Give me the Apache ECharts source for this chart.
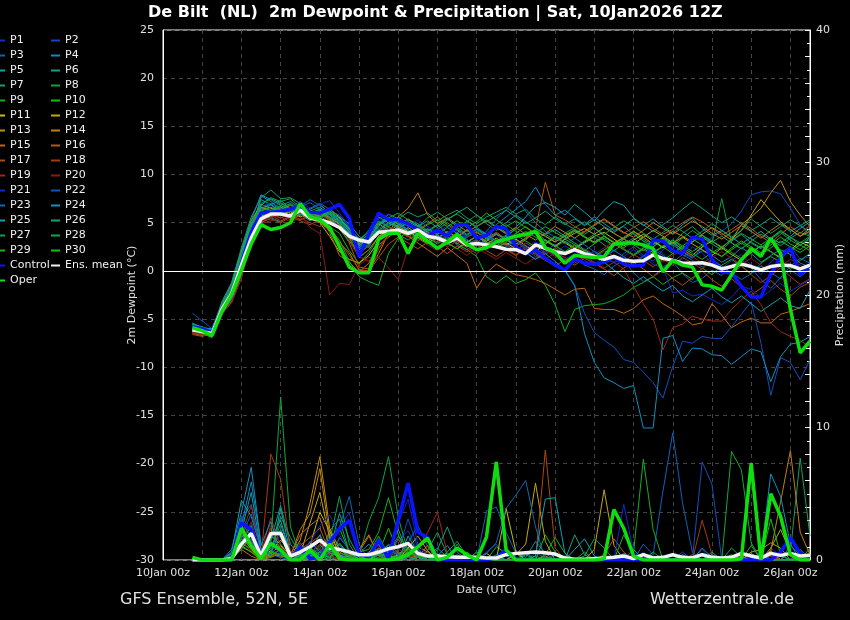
<!DOCTYPE html>
<html lang="en">
<head>
    <meta charset="UTF-8">
    <title>De Bilt Dewpoint & Precipitation</title>
    <script src="https://cdn.jsdelivr.net/npm/echarts@6/dist/echarts.min.js"></script>
    <style>
        html, body { margin: 0; padding: 0; background: #000; }
        #chart { width: 850px; height: 620px; }
    </style>
</head>
<body>
<div id="chart"></div>
<script>
    // time steps: hours after 10Jan 00z, every 6h from +18h to +396h (64 steps)
    var hours = [];
    for (var h = 18; h <= 396; h += 6) hours.push(h);

    var names = ['P1','P2','P3','P4','P5','P6','P7','P8','P9','P10','P11','P12','P13','P14','P15',
                 'P16','P17','P18','P19','P20','P21','P22','P23','P24','P25','P26','P27','P28','P29','P30'];
    var colors = ['#1030c0','#1048c0','#1060b8','#1088c0','#10a0b8','#10a088','#10a060','#10a040','#10b020','#10c010',
                  '#c0c010','#c0a810','#c09010','#c08010','#c06810','#b85810','#b04810','#a83810','#a02818','#901818',
                  '#1028d0','#1050c0','#1068b0','#1090c0','#10a0b0','#10a080','#10a058','#10a840','#18b020','#10c010'];

    // ---- 2m dewpoint (°C) ----
    var dewMean = [
        -6.1,-6.3,-6.5,-4.0,-2.4,0.6,3.4,5.4,
        5.9,5.9,5.7,6.3,5.5,5.3,5.0,4.5,
        3.6,3.2,3.0,4.0,4.1,4.25,3.9,4.25,
        3.6,3.4,3.0,3.4,2.7,2.85,2.7,2.5,
        2.25,2.2,1.8,2.7,2.35,2.0,1.8,2.2,
        1.8,1.5,1.2,1.5,1.1,1.0,1.05,1.65,
        1.3,1.1,0.8,0.8,0.85,0.6,0.2,0.45,
        0.7,0.45,0.1,0.45,0.6,0.55,0.2,0.6];
    var dewControl = [
        -5.8,-6.0,-6.4,-4.0,-2.6,0.8,4.0,6.0,
        6.1,6.2,6.4,6.7,6.1,6.0,6.4,6.9,
        5.5,1.5,3.8,6.0,5.3,5.3,4.9,4.3,
        3.6,4.25,3.6,4.8,4.8,3.4,3.7,4.6,
        4.4,2.5,1.8,2.2,1.3,0.6,0.1,1.2,
        0.8,0.7,0.9,1.4,0.7,0.5,0.6,3.2,
        3.1,2.1,1.8,3.5,3.3,1.2,-0.1,-0.2,
        -1.6,-2.7,-2.7,-0.3,1.4,2.4,-0.4,0.6];
    var dewOper = [
        -5.9,-6.2,-6.7,-4.2,-2.5,0.1,2.8,4.8,
        4.3,4.5,5.0,7.0,5.6,5.3,4.5,2.5,
        0.4,-0.2,-0.2,3.3,3.9,3.9,1.8,3.9,
        3.1,2.35,3.0,3.8,2.8,2.2,2.4,3.0,
        3.3,3.6,3.8,4.1,2.4,1.9,0.8,1.6,
        1.5,1.4,1.5,2.8,2.9,2.9,2.7,2.3,
        -0.1,1.1,0.6,0.4,-1.45,-1.6,-2.0,-0.4,
        1.15,2.3,1.5,3.4,1.8,-4.0,-8.5,-7.3];

    var dewP1 = [
        -5.6,-6.0,-6.2,-4.3,-2.9,0.2,3.8,5.6,
        5.9,6.3,5.4,6.8,6.0,5.5,6.2,5.8,
        4.6,3.0,3.9,5.5,4.8,5.2,4.3,4.9,
        3.8,4.4,3.2,3.9,3.3,2.6,3.1,3.8,
        2.9,2.4,1.6,2.5,1.9,2.3,1.2,1.8,
        1.1,0.6,1.5,2.2,1.4,0.9,1.6,2.4,
        1.8,0.8,1.2,2.5,1.9,0.7,0.2,1.1,
        1.7,0.6,-0.4,0.9,1.8,2.6,1.2,1.5];
    var dewP2 = [
        -5.9,-6.2,-6.5,-4.0,-2.2,1.2,4.2,5.8,
        6.1,5.7,6.4,6.0,5.2,5.9,6.5,5.1,
        3.9,2.5,3.2,5.0,5.6,4.4,3.8,4.6,
        4.1,3.5,3.9,4.4,3.0,3.6,2.8,3.3,
        2.6,3.1,2.2,1.5,2.0,2.8,1.7,2.3,
        1.5,2.0,1.2,0.9,1.8,2.5,1.6,1.0,
        2.2,2.9,1.9,1.3,2.4,3.5,4.1,4.9,
        6.2,7.9,8.2,8.3,8.0,6.5,4.8,3.6];
    var dewP3 = [
        -6.2,-6.4,-6.0,-3.6,-1.8,1.5,4.5,6.4,
        6.8,6.2,5.8,6.6,7.1,6.4,5.6,5.2,
        4.3,3.4,2.7,4.1,4.7,5.4,4.9,4.2,
        3.4,2.9,3.6,2.7,2.2,2.9,3.7,4.5,
        3.8,2.6,1.9,1.2,2.3,1.6,0.8,1.4,
        0.6,0.2,-0.4,0.5,1.1,-0.2,-1.1,-0.6,
        0.4,1.0,-0.3,-1.2,-0.8,0.1,-0.5,0.6,
        1.2,0.3,-0.9,-1.8,-0.7,0.5,1.3,0.8];
    var dewP4 = [
        -5.4,-5.9,-6.1,-4.4,-3.0,-0.5,3.2,5.0,
        5.5,5.1,5.8,6.2,5.6,6.1,5.4,4.8,
        3.8,2.6,3.5,4.8,5.3,4.6,3.9,4.4,
        3.1,3.8,2.9,3.5,4.2,3.6,3.0,4.8,
        5.6,6.4,7.2,8.7,6.9,5.8,6.3,5.5,
        4.8,5.6,4.9,4.2,4.6,3.8,3.1,2.5,
        3.3,2.7,2.0,1.4,2.1,1.6,0.9,1.5,
        2.4,1.8,0.9,1.6,2.2,1.7,0.8,0.4];
    var dewP5 = [
        -5.8,-6.1,-6.6,-4.5,-3.1,-0.2,3.6,7.8,
        7.2,6.4,5.6,5.9,6.3,5.7,5.0,5.6,
        4.9,3.6,2.8,3.9,4.5,4.1,3.6,3.3,
        3.9,3.3,2.7,3.4,2.6,3.2,2.4,2.9,
        3.4,4.5,5.6,6.7,7.1,6.6,5.8,6.9,
        6.1,5.2,6.3,7.2,6.8,5.5,4.7,5.4,
        4.6,3.9,4.8,5.5,4.4,3.7,4.2,3.5,
        2.8,3.5,4.1,3.3,2.9,3.6,4.4,5.1];
    var dewP6 = [
        -6.0,-6.3,-6.8,-4.1,-2.4,0.9,4.6,7.4,
        6.9,7.3,6.5,5.8,6.4,6.9,6.0,5.5,
        4.4,3.1,4.2,5.9,5.2,4.6,5.3,4.9,
        4.2,4.8,3.9,4.5,3.8,4.4,3.5,3.0,
        3.6,2.8,3.3,4.0,3.2,2.5,3.1,2.4,
        2.9,3.5,2.7,2.1,2.8,3.4,2.6,1.9,
        2.5,3.2,2.4,3.0,3.7,2.8,2.2,3.1,
        3.8,2.9,2.3,3.4,4.2,3.5,2.7,3.3];
    var dewP7 = [
        -5.5,-5.8,-6.2,-3.2,-1.2,2.4,5.6,7.6,
        8.4,7.5,7.6,7.0,6.2,6.6,5.9,4.8,
        3.6,2.2,3.0,4.6,5.9,5.4,6.1,5.6,
        6.0,5.2,5.8,6.3,5.5,4.9,5.6,6.1,
        6.6,5.9,6.4,5.4,4.8,5.6,4.9,4.3,
        3.8,4.5,3.6,2.9,3.5,4.1,3.3,2.7,
        3.4,2.8,3.9,4.6,3.7,3.0,3.6,2.9,
        2.3,3.1,3.8,3.2,2.6,3.4,4.0,3.6];
    var dewP8 = [
        -6.3,-6.5,-6.6,-4.2,-2.7,0.3,3.9,6.0,
        6.3,7.1,6.4,5.9,5.2,5.8,6.1,5.5,
        4.0,2.9,3.4,4.3,3.7,4.4,5.1,4.6,
        5.5,6.1,5.4,4.6,5.1,5.8,4.9,4.2,
        4.8,4.1,3.5,4.2,3.6,3.0,3.7,4.3,
        3.6,2.9,3.4,2.6,3.3,3.9,3.1,2.5,
        3.2,2.6,3.4,4.2,3.5,2.8,7.5,2.9,
        2.3,3.0,2.4,3.3,4.0,3.2,2.6,3.5];
    var dewP9 = [
        -5.7,-6.0,-6.4,-3.8,-2.0,1.0,4.4,6.2,
        6.6,6.0,5.4,6.1,5.6,5.1,4.6,3.9,
        2.1,0.8,1.9,3.6,4.3,3.8,3.2,3.9,
        3.4,2.8,3.5,2.9,2.2,1.5,-0.6,-1.3,
        -0.5,-1.3,-0.9,-0.2,-1.5,-3.5,-6.3,-4.0,
        -3.6,-3.5,-3.4,-3.0,-2.5,-1.7,-1.2,-0.6,
        -1.4,-0.7,-0.2,-0.9,0.3,-0.4,0.6,1.2,
        0.5,-0.3,0.8,1.5,0.9,0.2,1.1,1.8];
    var dewP10 = [
        -6.1,-6.4,-6.9,-4.6,-2.6,0.6,3.8,5.4,
        5.8,6.5,7.0,6.3,5.5,6.0,5.3,4.6,
        3.4,1.8,2.6,4.2,5.0,4.5,3.7,4.3,
        3.6,4.2,3.4,2.8,3.5,4.0,3.3,2.6,
        3.2,3.9,4.6,3.8,3.1,2.5,3.3,2.7,
        2.1,2.8,3.6,2.9,2.3,1.7,2.4,3.1,
        2.5,1.8,2.6,3.3,2.7,2.0,1.5,2.4,
        3.1,2.5,1.9,2.7,3.5,2.8,2.2,3.0];
    var dewP11 = [
        -5.9,-6.2,-6.3,-3.9,-2.3,1.4,4.9,6.6,
        6.3,5.8,6.2,5.6,5.9,5.0,3.6,2.0,
        1.2,0.8,1.6,3.1,3.8,4.6,4.1,3.5,
        2.9,3.5,2.8,3.3,2.7,2.1,2.8,3.4,
        2.7,3.3,2.6,2.0,2.8,3.5,2.9,2.3,
        3.0,3.6,4.0,3.3,2.6,3.2,3.8,3.1,
        2.4,3.0,2.2,1.6,2.5,3.1,2.4,1.7,
        1.1,1.9,2.6,2.0,1.3,2.2,3.0,2.5];
    var dewP12 = [
        -6.4,-6.6,-6.2,-3.5,-1.5,2.0,5.2,6.9,
        6.5,6.1,5.5,6.0,5.4,5.9,6.4,5.6,
        4.1,2.8,3.6,4.9,4.2,3.7,4.5,3.8,
        3.1,3.7,2.9,2.3,3.0,3.6,2.9,2.4,
        2.9,2.3,1.8,2.5,3.2,2.6,3.3,3.9,
        4.4,3.8,4.5,3.9,3.3,2.8,3.5,4.2,
        3.6,2.9,3.5,2.8,2.2,1.6,2.4,3.3,
        4.2,5.8,7.4,6.2,5.1,4.3,3.6,4.4];
    var dewP13 = [
        -6.0,-6.2,-6.5,-4.2,-2.8,0.4,4.1,6.0,
        6.2,6.6,6.0,6.5,5.8,6.2,5.5,4.9,
        3.5,1.4,2.2,3.6,4.1,4.8,5.4,4.7,
        4.0,3.4,4.1,3.5,4.3,3.7,3.1,3.8,
        3.3,2.8,3.4,4.1,3.6,3.0,3.6,4.2,
        3.5,3.0,3.6,2.9,3.4,4.1,3.5,2.8,
        3.4,4.1,3.6,3.0,3.8,4.5,3.9,3.2,
        4.8,5.6,6.5,8.1,9.4,7.2,5.8,4.6];
    var dewP14 = [
        -6.2,-6.5,-6.6,-4.0,-2.1,1.1,4.3,5.7,
        6.0,6.4,6.8,6.2,5.4,5.0,4.2,2.9,
        1.9,0.1,0.0,1.8,3.9,5.6,6.5,8.1,
        5.8,4.9,5.5,4.8,4.1,4.6,5.2,4.5,
        3.9,4.5,3.8,3.2,3.9,4.6,4.0,3.4,
        4.1,4.8,5.4,4.7,4.0,3.5,4.2,5.0,
        4.4,3.8,4.5,5.2,4.6,3.9,3.3,4.0,
        4.7,4.1,3.4,4.2,4.9,4.3,3.6,4.1];
    var dewP15 = [
        -5.8,-6.0,-6.3,-4.1,-2.5,0.7,4.0,5.4,
        5.6,6.0,5.3,5.8,6.3,5.6,4.0,1.6,
        0.9,-0.1,0.8,2.7,3.5,4.2,3.6,2.9,
        2.2,1.5,2.4,1.6,0.8,-1.8,-0.2,0.7,
        0.1,-0.4,-0.6,-0.9,-1.3,-1.9,-2.5,-1.9,
        -1.8,-3.9,-4.0,-4.0,-4.4,-3.9,-3.0,-2.6,
        -3.4,-4.0,-4.7,-5.6,-5.4,-3.4,-4.6,-5.9,
        -5.3,-4.9,-5.4,-5.4,-4.5,-4.2,-3.8,-3.4];
    var dewP16 = [
        -6.5,-6.7,-6.4,-3.7,-1.9,1.6,4.7,6.2,
        6.0,5.5,5.9,5.3,5.7,6.1,5.4,4.5,
        2.9,0.4,0.2,2.3,3.8,4.4,5.0,4.3,
        4.9,5.6,4.8,4.2,3.5,4.1,3.4,4.0,
        3.3,2.6,3.2,4.4,9.2,5.8,5.3,4.6,
        4.0,4.7,5.3,4.6,3.9,4.5,5.1,4.4,
        3.8,4.3,5.0,5.6,5.1,4.4,3.7,4.3,
        5.0,4.4,3.6,2.9,3.8,4.6,3.9,4.7];
    var dewP17 = [
        -6.6,-6.8,-6.5,-4.4,-3.2,-0.3,3.4,5.1,
        5.4,5.0,5.6,5.2,4.8,5.3,4.5,3.1,
        1.6,0.2,-0.1,1.4,2.8,3.5,2.9,2.3,
        3.0,2.5,1.8,2.6,2.0,2.7,2.1,1.5,
        2.2,1.6,2.3,1.7,1.1,0.5,1.2,0.6,
        1.3,0.8,0.2,-0.5,0.3,0.9,0.2,-0.6,
        0.1,-0.8,-1.5,-0.7,0.0,-0.9,-1.6,-0.8,
        -1.7,-2.5,-1.8,-1.0,-1.9,-2.6,-1.7,-1.2];
    var dewP18 = [
        -6.3,-6.5,-6.7,-4.3,-2.9,0.0,3.7,5.3,
        5.8,5.2,5.6,6.1,5.5,5.9,5.2,4.6,
        3.3,1.9,2.6,4.0,4.6,4.1,3.5,4.2,
        3.5,3.0,3.8,3.1,2.5,3.2,2.6,3.3,
        2.7,2.1,2.9,2.3,1.7,2.4,1.8,2.6,
        1.9,1.3,2.1,1.5,0.9,1.7,1.1,0.4,
        1.2,0.6,1.4,0.8,0.2,1.1,0.5,-0.3,
        0.5,-0.4,-1.2,-0.5,0.3,-0.6,-1.4,-0.8];
    var dewP19 = [
        -6.1,-6.4,-6.6,-4.5,-3.3,-0.8,3.0,4.9,
        5.2,5.6,5.1,5.5,5.0,4.6,5.1,4.4,
        3.0,1.5,1.0,2.4,3.6,4.3,3.7,3.1,
        3.8,3.2,2.5,3.1,2.4,1.8,2.5,3.0,
        2.3,1.7,2.5,1.9,1.2,1.9,1.4,0.8,
        1.5,0.9,0.3,0.9,0.2,-1.6,-3.4,-5.0,
        -8.2,-5.9,-5.5,-4.7,-5.0,-5.2,-5.2,-4.0,
        -3.0,-2.1,-3.5,-5.4,-6.3,-6.8,-7.2,-7.9];
    var dewP20 = [
        -6.4,-6.6,-6.8,-4.6,-3.0,0.1,3.5,5.2,
        5.5,5.8,5.4,6.0,4.5,3.9,-2.5,-1.3,
        -1.4,0.6,1.4,1.4,0.3,-0.9,2.4,3.4,
        2.7,2.1,2.9,2.3,1.6,2.4,1.8,1.2,
        1.9,1.3,0.7,1.4,2.1,1.5,0.9,1.6,
        2.3,1.7,2.4,3.0,2.3,1.6,2.2,1.5,
        0.9,1.6,2.2,1.5,0.8,1.4,2.0,1.3,
        0.7,1.3,0.6,-0.2,0.5,1.2,0.6,-0.1];
    var dewP21 = [
        -5.7,-6.0,-6.3,-4.0,-2.4,0.9,4.4,6.1,
        6.4,6.0,6.6,7.2,6.5,6.9,7.3,6.0,
        4.7,2.3,3.1,5.4,5.9,5.1,4.6,5.3,
        4.6,4.0,4.7,4.1,3.5,4.2,3.6,3.0,
        3.7,3.1,2.4,3.0,2.5,1.9,2.6,2.0,
        1.4,2.1,1.5,0.8,1.5,2.2,1.4,0.7,
        0.3,-2.3,-2.0,-2.6,-2.4,-3.0,-3.5,-2.7,
        -1.6,-1.9,-2.8,-2.0,-1.3,-2.1,-1.5,-0.9];
    var dewP22 = [
        -4.4,-5.2,-6.0,-3.5,-1.6,1.8,4.9,6.7,
        7.0,6.5,6.1,6.7,7.4,6.8,6.0,5.4,
        4.2,3.0,3.8,5.2,4.7,5.5,4.9,4.3,
        3.7,4.3,3.6,3.0,3.7,4.4,3.8,3.2,
        2.5,3.1,2.4,1.8,1.2,0.6,0.0,-1.6,
        -4.4,-6.4,-7.2,-7.9,-9.2,-9.5,-10.5,-11.6,
        -13.2,-9.9,-7.3,-7.5,-6.8,-7.0,-7.0,-5.8,
        -4.5,-3.2,-7.5,-12.9,-9.0,-9.5,-11.3,-9.2];
    var dewP23 = [
        -5.6,-5.9,-6.2,-3.9,-2.2,1.0,4.3,6.0,
        6.3,5.9,6.4,5.9,6.5,7.0,6.4,5.7,
        4.5,3.2,2.4,4.4,5.0,4.4,3.8,4.5,
        3.9,3.3,4.0,3.4,2.7,3.3,4.1,5.4,
        6.3,7.6,6.2,5.0,4.1,3.5,2.8,3.4,
        2.7,2.0,1.4,2.1,1.5,0.8,1.5,2.2,
        1.6,0.9,1.7,1.1,0.4,1.2,0.5,-0.2,
        -0.9,-0.3,0.5,-0.2,-0.8,0.1,-0.6,0.2];
    var dewP24 = [
        -5.5,-5.9,-6.0,-3.4,-1.3,2.2,5.3,7.9,
        7.4,6.8,7.2,6.5,5.9,6.3,5.6,5.0,
        3.9,2.7,3.4,4.9,5.4,4.8,4.2,3.6,
        4.3,3.7,3.1,3.8,3.2,2.6,3.3,3.9,
        3.2,2.6,1.9,1.2,1.8,1.0,0.1,-1.5,
        -6.5,-9.5,-11.1,-11.6,-12.2,-11.9,-16.3,-16.3,
        -7.0,-6.7,-9.4,-8.0,-8.1,-8.7,-8.8,-9.7,
        -8.9,-8.1,-8.4,-11.5,-8.9,-7.6,-7.4,-6.8];
    var dewP25 = [
        -5.9,-6.2,-6.5,-4.3,-2.7,0.5,4.0,6.5,
        6.9,6.2,5.7,6.3,5.8,6.4,5.9,5.2,
        4.1,2.6,3.3,4.7,5.4,4.9,4.3,3.7,
        4.4,3.8,4.5,3.9,5.2,4.5,3.8,4.4,
        5.0,5.8,5.1,4.4,3.8,4.3,3.6,2.9,
        2.2,1.6,0.9,0.1,-0.7,-1.3,-0.6,-1.4,
        -2.1,-1.5,-2.6,-3.2,-2.5,-1.8,-2.7,-3.3,
        -2.6,-3.4,-4.2,-3.5,-2.8,-3.6,-3.9,-2.0];
    var dewP26 = [
        -6.2,-6.4,-6.3,-3.8,-1.9,1.5,4.8,7.0,
        7.5,7.0,6.4,5.8,6.1,5.5,6.0,5.3,
        4.4,3.3,4.0,5.6,5.0,4.4,5.1,4.6,
        5.2,4.5,5.3,6.0,6.6,5.8,5.1,5.7,
        6.3,5.6,4.9,5.5,6.2,5.4,4.8,5.4,
        4.7,5.3,4.6,4.0,4.7,5.4,4.8,4.1,
        4.8,5.5,6.4,7.2,6.5,5.7,5.0,5.6,
        4.9,4.2,4.8,5.5,4.8,4.1,4.7,5.3];
    var dewP27 = [
        -5.8,-6.1,-6.5,-4.4,-2.9,0.2,3.6,5.9,
        6.1,6.7,5.9,6.4,5.7,6.2,5.6,4.3,
        3.1,1.9,2.8,4.2,4.9,5.6,4.9,4.2,
        3.6,4.3,5.0,4.3,3.7,4.3,3.7,3.1,
        3.7,4.3,5.1,4.4,3.8,3.2,3.9,4.5,
        5.1,4.4,3.8,4.5,5.2,4.6,3.9,3.3,
        4.0,4.7,4.1,3.4,4.1,4.9,4.2,3.5,
        4.2,5.4,4.6,3.9,4.6,5.3,4.7,4.0];
    var dewP28 = [
        -6.0,-6.3,-6.6,-4.1,-2.3,1.3,4.6,6.8,
        7.6,7.2,7.5,6.6,6.0,6.4,5.8,5.1,
        3.7,2.4,3.2,4.9,5.5,6.0,5.3,4.7,
        4.1,4.7,5.4,5.9,5.2,4.6,5.3,4.6,
        4.0,3.4,4.1,3.5,2.9,3.6,3.0,2.4,
        3.1,3.8,3.2,2.6,3.3,2.7,2.1,2.8,
        3.5,2.9,2.3,3.0,3.7,3.1,2.5,3.2,
        3.9,3.3,2.7,3.4,4.1,3.5,2.9,3.6];
    var dewP29 = [
        -5.6,-5.9,-6.2,-3.6,-1.7,1.9,5.0,6.3,
        6.6,6.2,6.9,6.3,5.6,5.1,4.4,3.2,
        1.0,-0.6,-1.1,-1.5,1.8,3.4,4.0,3.4,
        2.8,3.5,2.9,2.3,2.9,3.6,3.0,2.4,
        3.0,3.7,3.1,2.5,3.2,2.6,2.0,2.7,
        2.1,1.5,2.2,2.8,2.2,1.6,2.3,1.7,
        1.1,1.8,2.4,1.8,1.2,1.9,2.5,1.9,
        1.3,2.0,2.6,2.0,1.4,2.1,2.7,2.1];
    var dewP30 = [
        -6.2,-6.5,-6.9,-4.5,-2.6,0.8,4.3,5.8,
        6.2,6.8,6.2,6.7,6.1,5.6,6.2,5.5,
        4.3,3.1,3.8,5.1,4.6,5.2,4.7,4.1,
        4.8,5.3,4.6,5.2,4.5,5.1,6.0,5.3,
        4.6,5.2,4.5,3.9,4.6,4.0,3.4,4.1,
        3.5,2.9,3.6,3.0,2.4,3.1,2.5,1.9,
        2.6,3.2,2.6,2.0,2.7,2.1,1.5,2.2,
        2.9,2.3,1.7,2.4,3.1,2.5,1.9,2.6];

    // ---- precipitation (mm / 6h) ----
    var precMean = [
        0,0,0,0,0.1,1.2,2.0,0.3,
        2.0,2.0,0.3,0.6,1.0,1.5,0.9,0.8,
        0.6,0.4,0.4,0.6,0.85,1.0,1.25,0.5,
        0.3,0.3,0.25,0.2,0.2,0.2,0.15,0.15,
        0.4,0.5,0.55,0.6,0.55,0.45,0.15,0.05,
        0.05,0.1,0.15,0.2,0.3,0.1,0.4,0.15,
        0.2,0.4,0.2,0.15,0.4,0.2,0.15,0.2,
        0.5,0.3,0.15,0.5,0.35,0.5,0.3,0.35];
    var precControl = [
        0,0,0,0,0,2.8,2.3,0.35,
        1.2,0.75,0.1,1.0,0.1,0.2,1.3,2.3,
        3.0,0.5,0.2,1.5,0.1,3.0,5.8,2.1,
        1.7,0.1,0,0,0,0,0,0.2,
        0.7,0.1,0,0,0,0,0,0,
        0,0,0,0,0,0,0,0,
        0,0,0,0,0,0,0,0,
        0,0,0,0,0.6,1.7,0.5,0.2];
    var precOper = [
        0.2,0,0,0,0,2.4,1.1,0.1,
        1.25,0.75,0,0,0.75,0,1.2,0.1,
        0,0,0,0,0,0.1,0.4,1.0,
        1.65,0,0.2,0.9,0.4,0,1.75,7.4,
        0.75,0,0,0,0,0,0,0,
        0,0,0.1,3.8,2.4,0.3,0,0,
        0,0,0,0,0,0,0,0,
        0.1,7.3,0,5.0,3.3,0.4,0,0];

    var precP1 = [
        0,0,0,0,0,1.5,2.8,0.4, 1.2,0.6,0,0.8,0.2,1.6,0.9,2.4,
        3.6,0.5,0,0.9,0.2,1.5,2.2,0.7, 0.3,0,0,0,0.4,0,0,0.3,
        0.9,0.2,0,0,0,0.4,0,0, 0,0,0.3,0,0,0,0.6,0,
        0,0.4,0,0,0.8,0,0,0, 0.5,0,0,0.9,0.3,0,0.4,0];
    var precP2 = [
        0,0,0,0,0.3,2.2,1.4,0.2, 0.8,1.9,0.3,0.5,0,0.9,1.5,0.4,
        0.2,0,0.6,1.1,0,0.7,3.1,0.9, 0,0.2,0,0,0,0,0.6,1.2,
        0.3,0,0,0.5,0.2,0,0,0, 0,0,0,0,0.5,0,0,0,
        0,0,0.3,0,0,0.4,0,0, 0,0,0.6,0,0,0,0.3,0.5];
    var precP3 = [
        0,0,0,0,0.1,3.1,4.2,0.6, 2.0,0.8,0,1.3,0.4,0.2,1.9,1.1,
        0.5,0.3,0,1.6,0.5,0,1.3,2.6, 1.0,0,0,0,0,0,3.7,4.0,
        2.1,0.5,0,0,0,0,0.2,0, 0,0,0,0.3,0,0,1.2,0.4,
        5.2,9.6,4.3,0.6,0,0,0,0.2, 0,0,0,0,0.4,0,0,0];
    var precP4 = [
        0,0,0,0,0.4,2.6,5.9,1.2, 0.6,2.3,0.3,0,0.9,0.4,0,1.7,
        0.8,0,0.2,0.6,1.1,0.3,0,0.4, 0,0.3,1.1,0,0,0,0,0,
        0,0.6,0.2,1.4,0.5,0,0,0, 0,0,0,0,0,0.4,0,0,
        0,0,0,0,0.9,0.2,0,0, 0,0.5,0,0,0,1.1,0.4,0];
    var precP5 = [
        0,0,0,0,0.6,4.5,3.3,0.8, 0.2,3.9,0.5,0.3,1.4,0.6,0.2,0,
        0.4,0,0,0.9,0.3,0,0.5,0, 0,0.2,0.5,0,0,0.2,0,0,
        0,0,0.4,0,0,0,0,0.8, 1.6,0.3,0,0,0,0,0,0,
        0,0,0.4,0,0,0,0,0, 0,0,0,0.6,0,0,0,0.2];
    var precP6 = [
        0,0,0,0,0.2,1.8,2.4,0.3, 1.5,4.1,1.2,0.2,0,0.4,2.2,3.1,
        0.6,0,0.2,0.4,0.8,2.3,0.5,0, 0.3,0.9,0.2,0,0,0,0,0,
        0,0.5,0,0,0,0,0,1.9, 0.4,0,0,0,0,0,0,0.3,
        0,0,0,0,0,0.6,0,0, 0,0,0.3,0,0,0,0.8,0];
    var precP7 = [
        0.1,0,0,0,0.3,2.1,1.5,0.1, 0.9,2.7,0.4,0,0.6,0.3,1.4,4.8,
        1.2,0,0,0.2,0.6,1.8,0.9,0, 0.7,2.1,0.4,0,0,0,0,0.4,
        0,0,0,0,0.2,0,0,0, 0.6,0,0,0,0,0.8,0,0,
        0,0,0,0,0,0.4,0,0.9, 0.2,0,0,0,0,0.6,7.7,1.8];
    var precP8 = [
        0,0,0,0,0.2,2.9,1.7,0.3, 1.1,0.6,0,0.5,0.8,0.3,0,1.3,
        0.4,0.3,2.9,4.7,7.8,3.2,0.6,0.2, 0,0.4,0,1.2,0,0,0,0,
        0,0,0,0.3,0,0,0,0, 0,0,0,0,0,0,0,0.6,
        0,0,0,0,0,0.4,0,0, 0,0,0,0.3,0,0,0,0];
    var precP9 = [
        0,0,0,0,0.1,1.6,0.9,0.2, 0.6,0.4,0,0,0.2,1.1,0.7,0.3,
        0,0,0.5,1.8,0.4,0,0.9,0.5, 0.3,0,0,0,0.6,0,0,1.0,
        0.5,0,0,0,0.4,1.7,0.5,0, 0,0,0,0,0,0,0,0,
        0,0,0,0,0,0,0,0, 0,0,0.4,0,0,0,0,0];
    var precP10 = [
        0,0,0,0,0.2,1.3,2.1,0.2, 1.8,1.2,0.2,0,0.3,0.6,0.1,0.8,
        0.2,0,0,0.5,2.4,0.6,0,0.4, 0,0,0.5,0,0,0.2,0,0,
        0,0,0.6,0,1.9,0.6,0,0, 0,0,0.3,0,0,0,0,0,
        0,0,0,0,0,0,0,0.4, 0,1.1,0,0,0,0,0,0];
    var precP11 = [
        0,0,0,0,0.5,2.0,1.2,0.3, 0.7,1.5,0.6,0,1.1,3.6,2.2,0.4,
        0,0,0.3,0,0,0.4,0.2,1.0, 0.6,0,0,0,0.2,0,0.5,0,
        3.9,0.6,0,0,0,0,0,0, 0,0.2,0,0,0,0,0,0,
        0,0,0,0,0,0,0,0, 0,0,0,0.7,0,0,0,0];
    var precP12 = [
        0,0,0,0,0.3,2.4,1.0,0.2, 0.5,1.1,0.3,0.4,2.8,5.1,1.6,0.3,
        0.2,0,0,0.4,0.3,0,0.9,1.8, 0.7,0,0,0,0,0,0,0,
        0,0.4,1.2,5.8,1.4,0,0,0, 0,0.8,5.3,1.1,0,0,0,0,
        0,0,0,0.3,0,0,0.2,0, 0,0,0,0.9,2.3,0.6,0,0];
    var precP13 = [
        0,0,0,0,0.2,1.9,0.8,0.1, 0.4,0.3,0.2,1.5,4.3,7.8,2.4,0.8,
        0.3,0,0.6,1.2,0,0,0.4,0.2, 0,0,0,0.3,0,0,0,0,
        0,0,0,0,0,0,0,0, 0,0,0,0,0,0,0,0,
        0,0,0,0,0,0,0,0.2, 0,0.6,0.8,1.3,0.9,0,0,0];
    var precP14 = [
        0,0,0,0,0.4,1.1,0.6,0, 0.2,0.5,0.3,2.3,3.5,6.9,1.8,0.6,
        0.2,0.8,1.9,0.3,0,0.5,0.8,0, 0.3,0,0,0,0,0,0,0,
        0,0,0,0,0,0,0.3,0, 0,0,0,0,0,0,0,0,
        0,0,0,0,0,0,0,0, 0,0,0,0.7,4.4,8.25,2.1,0.4];
    var precP15 = [
        0,0,0,0,0.1,0.8,0.3,0, 0.6,0.2,0.4,1.9,2.6,3.2,1.1,0.3,
        0,0.6,1.8,0.4,0,0,0.5,0.2, 1.1,0,0,0,0,0,0,0,
        0,0,0,0,0.3,0,0,0, 0,0,0,0,0,0,0,0,
        0.2,0,0,0,0,0,0,0, 0.3,0,0,0,0,0,0,0];
    var precP16 = [
        0,0,0,0,0.3,1.4,0.7,0.1, 0.3,0.9,0.2,1.1,1.7,2.4,0.6,0.2,
        0.1,0,0.3,0.9,0.5,1.6,0.2,0, 0,0,0.3,0,0,0,0.2,0,
        0,0,0,0,0,0,0,0, 0,0,0.4,1.6,0.6,0,0,0,
        0,0,0,0.4,0,0,0,0, 0,0,0,0.5,0,0,0,0];
    var precP17 = [
        0,0,0,0,0.2,0.9,1.6,0.3, 2.4,0.7,0.1,0.8,1.3,1.8,0.4,0,
        0.2,0,0.4,0.7,0,0.3,0,0, 0,0,0,0,0,0,0,0,
        0,0,0,0,8.3,0.9,0,0, 0,0,0,0,0,0,0,0,
        0,0,0,0,0,0,0,0, 0,0,0,0,0,0,0.3,0];
    var precP18 = [
        0,0,0,0,0.1,2.7,1.2,0.2, 8.0,6.1,0.6,0.2,0.9,1.4,0.3,0,
        0.4,0,0,0.2,0,0,0.3,0.4, 0.6,0,0,0,0,0,0,0,
        0,0,0,0,0,0,0,0, 0,0,0,0,0,0,0.2,0,
        0,0,0,0,3.0,0.4,0,0, 0,0,0,0,0,0,0,0];
    var precP19 = [
        0,0,0,0,0.2,1.8,4.1,0.5, 3.2,1.0,0.3,0.1,0.5,1.2,0.6,0.2,
        0,0,0.2,0.5,0.3,0.6,0,0.8, 2.1,3.6,0.5,0,0,0,0,0,
        0,0,0,0,0,0,0,0, 0,0,0,0,0,0,0,0,
        0,0,0,0,0,0,0,0, 0,0,0,0.3,0,0,0,0];
    var precP20 = [
        0,0,0,0,0.4,1.2,2.9,0.3, 2.6,1.7,0.2,0,0.6,0.9,0.3,0,
        0.2,0,0,0,0.3,0.8,0.5,0, 0,0,0,0,0,0,0,0,
        0,0,0,0,0,0,0,0, 0,0,0,0,0,0,0,0,
        0,0,0,0,0,0,0,0, 0,0,0,0,0,0,0,0];
    var precP21 = [
        0,0,0,0,0.3,2.4,1.6,0.2, 0.8,0.5,0.1,0.6,1.3,2.6,3.4,1.9,
        0.7,0.2,0.5,1.3,0.4,2.8,4.6,1.2, 0.3,0,0,0,0,0,0,0,
        0,0,0,0,0,0,0,0, 0,0,0,0,4.2,0.6,0,0,
        0,0,0,0,0,0,0,0, 0,0,0,0,0,0,0,0];
    var precP22 = [
        0,0,0,0,0.2,3.3,2.2,0.3, 1.4,0.6,0,0.2,0.4,0.8,0.3,1.1,
        0.5,0,0.2,0.6,0.9,0.4,0.2,0, 0,0,0,0,0,0,0,0,
        0,0,0,0,0,0,0,0, 0,0,0,0,0.5,0,0,0,
        0,0,0.6,0,7.4,5.7,0,0, 0,0,0,0,0,0,0,0];
    var precP23 = [
        0,0,0,0,0.5,1.7,3.5,0.8, 0.4,0.2,0,0.3,0.5,0.4,1.6,2.5,
        4.8,1.2,0,0.2,0.7,0.4,0,0.3, 0,0,0,0,0,0,0.5,1.3,
        3.9,4.9,6.0,2.5,0,0,0,0, 0,0,0,0,0,0,0,0,
        0,0,0,0,0,0,0,0, 0,0,0,0,0,0,0,0];
    var precP24 = [
        0,0,0,0,0.8,3.6,7.0,1.1, 2.9,0.5,0,0.4,0.2,0,0.6,0.9,
        0.3,0.5,1.2,0.4,0,0,0.3,0.8, 0.2,0,0,0,0,0,0,0,
        0,0,0,0,0,0,0,0, 0,0,0,0,0,0,0,0,
        0,0,0,0,0,0,0,0, 0,0,0.3,6.5,4.8,1.2,0,0];
    var precP25 = [
        0,0,0,0,0.3,2.2,5.1,0.7, 1.6,3.0,0.4,0.2,0.7,1.9,0.5,0.3,
        0.2,0,0.4,0.6,0.2,0,1.8,0.6, 0,0,0,0.4,0,0.6,0,0,
        0,0,0,0.3,4.6,4.7,0.5,0, 0,0,0,0,0,0,0,0,
        0,0,0,0,0,0,0,0, 0,0,0,0,0,0,0,0];
    var precP26 = [
        0,0,0,0,0.2,1.3,2.6,0.4, 1.9,2.2,0.3,0,0.5,0.3,0.8,3.5,
        1.6,0.2,0,0.4,1.2,0.5,0,0.2, 0,0.8,2.5,0.6,0,0,0,0.3,
        0,0,0,0,0,0,0,0, 0,0.2,0,0,0,0,0,0,
        0,0,0,0,0,0,0,0, 0,0,0.4,0,0,0,0,0];
    var precP27 = [
        0,0,0,0,0.3,1.6,1.1,0.2, 0.5,3.3,1.7,0.4,0,0.6,0.2,1.2,
        0.5,0,0.3,0.8,0.2,0,0.4,0.6, 0.2,0,0.6,1.4,0.3,0,0,0,
        0,0,0,0,0,0,0,0, 0.3,1.6,0.9,0,0,0,0,0,
        0,0,0,0,0,0,0,0, 0,0,0,0,0,0,0,0];
    var precP28 = [
        0,0,0,0,0.2,1.2,0.9,0.1, 1.3,12.3,2.5,0.3,0.2,0.4,0.7,0.5,
        0.3,0,0.4,0.6,0,0.3,0.8,0.4, 0,0,0,0,0,0,0,0,
        0,0,0,0,0,0,0,0, 0,0,0,0,0,0,0,0,
        0,0,0,0,0,0,0,8.2, 6.8,1.3,0,0,0,0,0,0];
    var precP29 = [
        0,0,0,0,0.2,0.8,1.9,0.3, 0.6,0.4,0,0.3,0.9,0.4,0.2,0.8,
        0.3,0.6,0.8,2.1,4.7,1.9,0.3,0, 0,0,0,0,0,0,0,0,
        0,0,0,0,0,0,0,0, 0,0,0,0,1.9,0.6,7.6,2.3,
        0,0,0,0,0,0,0,0, 0,0,0,0,0,0,0,0];
    var precP30 = [
        0,0,0,0,0.1,1.0,0.6,0, 0.3,0.8,0.2,0,0.5,0.3,0.9,2.4,
        0.6,0,0.2,0.5,0.3,0.2,0.6,0.3, 0.2,0,0,0,0,0,0,0,
        0,0,0,0,0,0,0,0, 0,0,0,0,0,0,0,0,
        0,0,0,0,0,0,0,0, 0,0,0,3.1,0.4,0,0,0.9];

    var dewMembers = [dewP1,dewP2,dewP3,dewP4,dewP5,dewP6,dewP7,dewP8,dewP9,dewP10,
                      dewP11,dewP12,dewP13,dewP14,dewP15,dewP16,dewP17,dewP18,dewP19,dewP20,
                      dewP21,dewP22,dewP23,dewP24,dewP25,dewP26,dewP27,dewP28,dewP29,dewP30];
    var precMembers = [precP1,precP2,precP3,precP4,precP5,precP6,precP7,precP8,precP9,precP10,
                       precP11,precP12,precP13,precP14,precP15,precP16,precP17,precP18,precP19,precP20,
                       precP21,precP22,precP23,precP24,precP25,precP26,precP27,precP28,precP29,precP30];

    function line(name, color, width, yIdx, values, z) {
        return {
            name: name, type: 'line', yAxisIndex: yIdx, z: z,
            data: values.map(function (v, i) { return [hours[i], v]; }),
            symbol: 'none', silent: true,
            lineStyle: { color: color, width: width },
            itemStyle: { color: color }
        };
    }

    var series = [];
    for (var k = 0; k < names.length; k++) {
        series.push(line(names[k], colors[k], 1, 0, dewMembers[k], 2));
        series.push(line(names[k], colors[k], 1, 1, precMembers[k], 2));
    }
    // white zero line of the dewpoint axis
    series[0].markLine = {
        silent: true, symbol: 'none', animation: false, label: { show: false },
        lineStyle: { color: '#fff', width: 1, type: 'solid' },
        data: [{ yAxis: 0 }]
    };
    series.push(line('Control', '#0a14ff', 3.5, 0, dewControl, 4));
    series.push(line('Control', '#0a14ff', 3.5, 1, precControl, 4));
    series.push(line('Ens. mean', '#f2f2f2', 3.5, 0, dewMean, 5));
    series.push(line('Ens. mean', '#f2f2f2', 3.5, 1, precMean, 5));
    series.push(line('Oper', '#10dd10', 3.5, 0, dewOper, 6));
    series.push(line('Oper', '#10dd10', 3.5, 1, precOper, 6));

    var leftCol = [], rightCol = [];
    for (var n = 0; n < names.length; n++) {
        if (n % 2 === 0) leftCol.push(names[n]); else rightCol.push(names[n]);
    }
    leftCol.push('Control', 'Oper');
    rightCol.push('Ens. mean');

    var legendBase = {
        orient: 'vertical', top: 34, padding: 0, icon: 'rect', itemWidth: 9, itemHeight: 2, itemGap: 2,
        selectedMode: false,
        textStyle: { color: '#f0f0f0', fontSize: 11, lineHeight: 13 }
    };

    var chart = echarts.init(document.getElementById('chart'));
    chart.setOption({
        backgroundColor: '#000',
        animation: false,
        textStyle: { fontFamily: 'DejaVu Sans' },
        title: [
            { text: 'De Bilt  (NL)  2m Dewpoint & Precipitation | Sat, 10Jan2026 12Z', left: 143, top: 0,
              textStyle: { color: '#fff', fontSize: 16, fontWeight: 'bold' } },
            { text: 'GFS Ensemble, 52N, 5E', left: 115, top: 587,
              textStyle: { color: '#e0e0e0', fontSize: 16, fontWeight: 'normal' } },
            { text: 'Wetterzentrale.de', right: 51, top: 587,
              textStyle: { color: '#e0e0e0', fontSize: 16, fontWeight: 'normal' } }
        ],
        legend: [
            Object.assign({ left: -4, data: leftCol }, legendBase),
            Object.assign({ left: 51, data: rightCol }, legendBase)
        ],
        grid: { left: 163, right: 40, top: 30, bottom: 60, show: true, borderColor: '#fff', borderWidth: 1,
                outerBoundsMode: 'none' },
        xAxis: {
            type: 'value', min: 0, max: 396, interval: 24,
            name: 'Date (UTC)', nameLocation: 'middle', nameGap: 25,
            nameTextStyle: { color: '#e0e0e0', fontSize: 11 },
            axisLine: { lineStyle: { color: '#fff' } },
            axisTick: { show: false },
            axisLabel: {
                color: '#e0e0e0', fontSize: 11, margin: 8,
                formatter: function (v) {
                    if (v % 48 !== 0) return '';
                    return (10 + v / 24) + 'Jan 00z';
                }
            },
            splitLine: { show: true, lineStyle: { color: '#444', type: [4, 4] } }
        },
        yAxis: [
            {
                type: 'value', min: -30, max: 25, interval: 5, position: 'left',
                name: '2m Dewpoint (°C)', nameLocation: 'middle', nameGap: 25, nameRotate: 90,
                nameMoveOverlap: false,
                nameTextStyle: { color: '#e0e0e0', fontSize: 11 },
                axisLine: { show: true, lineStyle: { color: '#fff' } },
                axisTick: { show: false },
                axisLabel: { color: '#e0e0e0', fontSize: 11, margin: 9 },
                splitLine: { show: true, lineStyle: { color: '#444', type: [4, 4] } }
            },
            {
                type: 'value', min: 0, max: 40, interval: 2, position: 'right',
                name: 'Precipitation (mm)', nameLocation: 'middle', nameGap: 25, nameRotate: 90,
                nameMoveOverlap: false,
                nameTextStyle: { color: '#e0e0e0', fontSize: 11 },
                axisLine: { show: true, lineStyle: { color: '#fff' } },
                axisTick: { show: true, inside: true, length: 5, lineStyle: { color: '#fff' } },
                minorTick: { show: true, splitNumber: 2, length: 3, lineStyle: { color: '#fff' } },
                axisLabel: {
                    color: '#e0e0e0', fontSize: 11, margin: 6,
                    formatter: function (v) { return v % 10 === 0 ? String(v) : ''; }
                },
                splitLine: { show: false }
            }
        ],
        series: series
    });
</script>
</body>
</html>
